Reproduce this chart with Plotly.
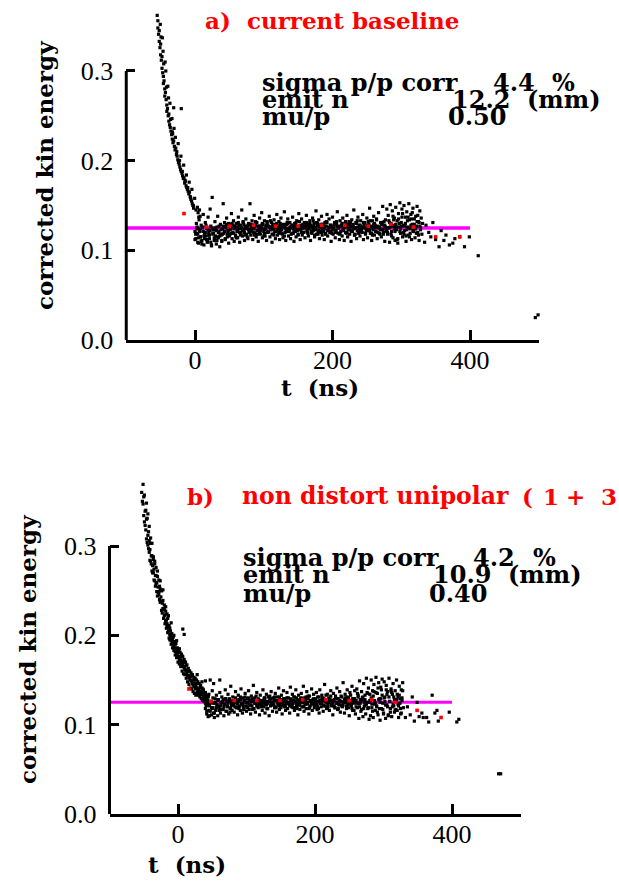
import plotly.graph_objects as go

W, H = 619, 884

# ================= panel a : current baseline =================
# time t (ns); energy values in units of 1e-3
t_a_curve1 = [-55,-54,-54,-53,-52,-52,-51,-50,-50,-49,-48,-48,-47,-46,-46,-45,-44,-44,-43,-42,-41,-41,-40,-39,-38,-38,-37,-36,-35,-34,-33,-33,-32,-31,-30,-29,-28,-27,-26,-25,-24,-23,-22,-21,-20,-19,-18,-17,-16,-15,-14,-13,-12,-11,-10,-9,-8,-7,-6,-5,-4,-3,-2,-31,-20]
e_a_curve1 = [362,356,348,341,345,333,326,330,318,312,316,303,298,294,286,289,280,272,276,268,262,255,258,250,252,244,240,237,233,229,232,224,220,222,216,212,214,207,205,201,198,196,193,190,188,186,183,180,181,175,177,172,170,168,166,163,165,160,157,155,152,150,147,259,258]
t_a_curve2 = [-50.5,-49.5,-47.5,-46.5,-45.5,-43.5,-42.5,-41.5,-39.5,-38.5,-36.5,-35.5,-33.5,-32.5,-30.5,-28.5,-26.5,-24.5,-22.5,-20.5,-18.5,-16.5,-14.5,-12.5,-10.5,-8.5,-6.5,-4.5,-2.5,-0.5,1.5,3.5,4.5,5.5,6.5,7.5]
e_a_curve2 = [352,338,337,322,308,310,300,282,283,270,264,246,247,230,236,226,210,219,200,205,188,195,178,184,170,176,159,168,150,158,145,148,142,137,145,138]

t_a_band1 = [0,1,2,3,4,5,6,7,8,9,10,11,12,13,14,15,16,17,18,19,20,21,22,23,24,25,26,27,28,29,30,31,32,33,34,35,36,37,38,39,
 40,41,42,43,44,45,46,47,48,49,50,51,52,53,54,55,56,57,58,59,60,61,62,63,64,65,66,67,68,69,70,71,72,73,74,75,76,77,78,79,
 80,81,82,83,84,85,86,87,88,89,90,91,92,93,94,95,96,97,98,99,100,101,102,103,104,105,106,107,108,109,110,111,112,113,114,115,116,117,118,119,
 120,121,122,123,124,125,126,127,128,129,130,131,132,133,134,135,136,137,138,139,140,141,142,143,144,145,146,147,148,149,150,151,152,153,154,155,156,157,158,159,
 160,161,162,163,164,165,166,167,168,169,170,171,172,173,174,175,176,177,178,179,180,181,182,183,184,185,186,187,188,189,190,191,192,193,194,195,196,197,198,199,
 200,201,202,203,204,205,206,207,208,209,210,211,212,213,214,215,216,217,218,219,220,221,222,223,224,225,226,227,228,229,230,231,232,233,234,235,236,237,238,239,
 240,241,242,243,244,245,246,247,248,249,250,251,252,253,254,255,256,257,258,259,260,261,262,263,264,265,266,267,268,269,270,271,272,273,274,275,276,277,278,279,
 280,281,282,283,284,285,286,287,288,289,290,291,292,293,294,295,296,297,298,299,300,301,302,303,304,305,306,307,308,309,310,311,312,313,314,315,316,317,318,319,
 320,321,322,323,324,325,326,327,328,329,330,331]
e_a_band1 = [121,113,130,126,118,108,134,122,115,128,111,125,140,106,119,131,116,124,109,137,
 120,113,146,127,105,159,118,123,111,132,116,107,126,138,114,121,104,129,117,110,
 124,152,119,131,112,127,136,115,122,108,129,118,125,141,113,120,133,110,126,117,
 130,121,114,137,124,109,128,119,145,116,132,123,111,127,135,118,125,113,130,120,
 152,117,126,133,112,124,139,119,128,115,131,122,110,127,136,118,125,142,114,129,
 121,133,116,124,111,130,120,127,138,115,123,131,109,126,118,134,121,113,128,140,
 117,125,132,112,122,136,119,128,114,126,143,120,111,129,124,135,116,122,131,113,
 127,119,137,124,110,130,121,115,133,126,118,141,123,112,128,135,117,125,120,131,
 114,126,139,121,129,116,124,133,111,127,119,136,122,130,115,125,144,118,128,120,
 134,113,126,121,138,117,129,124,112,131,119,127,140,116,123,135,120,128,110,126,
 137,118,125,131,114,122,129,143,119,126,112,133,121,128,116,136,124,111,130,120,
 127,139,115,123,132,118,126,110,134,121,129,145,117,125,131,113,122,137,119,128,
 116,133,124,120,140,112,127,131,118,125,136,114,122,129,147,119,126,111,133,123,
 138,117,128,121,135,113,126,142,119,124,131,115,129,149,120,127,110,134,122,146,
 118,139,125,109,151,130,121,144,114,127,136,111,148,123,133,108,141,126,153,119,
 131,146,115,128,150,122,137,110,143,126,117,152,134,124,140,112,129,147,121,135,
 114,138,127,149,120,132,111,144,125,136,118,130]
t_a_band2 = [0,2,4,6,8,10,12,14,16,18,20,22,24,26,28,30,32,34,36,38,40,42,44,46,48,50,52,54,56,58,60,62,64,66,68,70,72,74,76,78,
 80,82,84,86,88,90,92,94,96,98,100,102,104,106,108,110,112,114,116,118,120,122,124,126,128,130,132,134,136,138,140,142,144,146,148,150,152,154,156,158,
 160,162,164,166,168,170,172,174,176,178,180,182,184,186,188,190,192,194,196,198,200,202,204,206,208,210,212,214,216,218,220,222,224,226,228,230,232,234,236,238,
 240,242,244,246,248,250,252,254,256,258,260,262,264,266,268,270,272,274,276,278,280,282,284,286,288,290,292,294,296,298,300,302,304,306,308,310,312,314,316,318,
 320,322,324,326,328]
e_a_band2 = [112,119,109,124,115,107,121,113,128,110,117,122,106,119,114,125,111,120,116,123,
 118,126,113,129,121,116,124,130,119,127,114,122,128,117,125,131,120,126,115,123,
 129,121,124,117,132,122,127,119,125,130,116,123,128,120,126,133,118,124,129,121,
 125,119,130,123,127,116,124,131,121,126,118,128,122,129,125,117,132,123,127,120,
 126,131,119,124,128,121,133,117,125,130,122,127,120,129,124,118,131,123,126,121,
 123,128,120,132,125,118,127,130,122,126,119,129,124,131,121,127,117,125,133,122,
 128,121,126,130,119,124,132,122,127,117,129,125,134,120,126,123,131,118,128,124,
 120,133,126,116,138,124,129,112,135,121,127,141,118,130,123,137,115,128,142,122,
 126,119,139,131,123]
t_a_band3 = [1,3,5,7,9,11,13,15,17,19,21,23,25,27,29,31,33,35,37,39,41,43,45,47,49,51,53,55,57,59,61,63,65,67,69,71,73,75,77,79,
 81,83,85,87,89,91,93,95,97,99,101,103,105,107,109,111,113,115,117,119,121,123,125,127,129,131,133,135,137,139,141,143,145,147,149,151,153,155,157,159,
 161,163,165,167,169,171,173,175,177,179,181,183,185,187,189,191,193,195,197,199,201,203,205,207,209,211,213,215,217,219,221,223,225,227,229,231,233,235,237,239,
 241,243,245,247,249,251,253,255,257,259,261,263,265,267,269,271,273,275,277,279,281,283,285,287,289,291,293,295,297,299,301,303,305,307,309,311,313,315,317,319,
 321,323,325,327]
e_a_band3 = [118,124,114,121,110,126,116,120,112,123,117,109,125,119,113,122,115,127,118,111,
 127,121,125,118,130,123,119,128,124,116,126,131,120,125,122,129,117,124,128,121,
 123,129,120,126,131,118,125,122,128,124,119,127,132,121,126,123,129,117,125,130,
 122,127,124,118,129,126,121,130,123,125,128,119,126,131,122,127,124,120,129,125,
 128,122,126,130,120,125,127,123,131,118,126,129,124,121,127,132,122,125,128,119,
 124,130,121,127,125,119,128,123,126,132,120,125,129,122,127,124,118,130,126,123,
 127,120,131,125,122,128,124,133,119,126,130,121,127,125,118,129,123,132,126,121,
 125,131,118,128,134,121,126,113,130,124,137,120,127,116,133,125,119,135,122,129,
 124,132,117,127]
t_a_tail = [334,336,340,343,346,350,355,358,362,365,370,375,378,385,392,399,412,495,499,512]
e_a_tail = [109,128,120,115,131,112,104,122,111,117,106,108,113,115,104,115,94,25,28,18]
t_a_mean = [-16,17,50,85,117,150,184,218,252,285,318,350,385]
e_a_mean = [141,126,127,128,127,127,128,128,127,129,126,115,115]

# ================= panel b : non distort unipolar =================
t_b_curve1 = [-51,-50,-49,-48,-47,-46,-45,-44,-43,-42,-41,-40,-39,-38,-37,-36,-35,-34,-33,-32,
 -31,-30,-29,-28,-27,-26,-25,-24,-23,-22,-21,-20,-19,-18,-17,-16,-15,-14,-13,-12,
 -11,-10,-9,-8,-7,-6,-5,-4,-3,-2,-1,0,1,2,3,4,5,6,7,8,9,10,11,12,13,14,15,16,17,18,
 19,20,21,22,23,24,25,26,27,28,29,30,31,32,33,34,35,36,37,38,39,40,41,42,43,44,45]
e_b_curve1 = [369,355,357,339,340,330,331,312,316,306,296,303,289,289,278,288,274,280,267,267,
 259,266,254,249,255,252,243,250,236,239,229,234,223,227,217,211,219,205,211,201,
 205,194,202,191,198,187,193,182,191,181,186,177,184,173,181,172,179,169,176,165,
 173,162,170,160,167,155,163,153,160,150,158,149,156,145,153,146,152,144,150,141,
 148,139,146,136,144,134,141,134,139,131,136,128,133,129,125,131,126]
t_b_curve2 = [-53,-52,-51,-50,-49,-48,-47,-46,-45,-44,-43,-42,-41,-40,-39,-38,-37,-36,-35,-34,
 -33,-32,-31,-30,-29,-28,-27,-26,-25,-24,-23,-22,-21,-20,-19,-18,-17,-16,-15,-14,
 -13,-12,-11,-10,-9,-8,-7,-6,-5,-4,-3,-2,-1,0,1,2,3,4,5,6,
 7,8,9,10,11,12,13,14,15,16,17,18,19,20,21,22,23,24,25,26,
 27,28,29,30,31,32,33,34,35,36,37,38,39,40,41,42]
e_b_curve2 = [360,350,347,334,327,323,318,308,304,301,297,293,284,283,280,272,270,270,262,261,
 255,258,249,244,248,246,240,237,238,228,225,230,219,222,213,216,208,213,203,209,
 197,195,199,190,194,186,190,183,186,178,183,175,180,170,176,168,174,165,171,160,
 168,157,164,156,161,152,158,148,155,145,152,141,149,140,146,137,143,135,141,133,
 141,136,139,133,137,131,135,129,134,127,132,126,130,124,129,122]
t_b_curve3 = [-46,-44,-42,-40,-38,-36,-34,-32,-30,-28,-26,-24,-22,-20,-18,-16,-14,-12,-10,-8,
 -6,-4,-2,0,2,4,6,8,10,12,14,16,18,20,22,24,26,28,30,32,34,36,38,40,42,44,46,
 7,9,35,47,52,61,28,40]
e_b_curve3 = [348,336,322,309,303,285,283,276,272,262,261,250,251,229,232,224,222,208,214,196,
 200,190,194,182,185,176,177,171,170,166,161,160,154,155,149,150,140,146,136,141,137,140,133,136,129,132,124,
 207,201,148,150,146,150,156,149]

t_b_band1 = [40,41,42,43,44,45,46,47,48,49,50,51,52,53,54,55,56,57,58,59,60,61,62,63,64,65,66,67,68,69,70,71,72,73,74,75,76,77,78,79,
 80,81,82,83,84,85,86,87,88,89,90,91,92,93,94,95,96,97,98,99,100,101,102,103,104,105,106,107,108,109,110,111,112,113,114,115,116,117,118,119,
 120,121,122,123,124,125,126,127,128,129,130,131,132,133,134,135,136,137,138,139,140,141,142,143,144,145,146,147,148,149,150,151,152,153,154,155,156,157,158,159,
 160,161,162,163,164,165,166,167,168,169,170,171,172,173,174,175,176,177,178,179,180,181,182,183,184,185,186,187,188,189,190,191,192,193,194,195,196,197,198,199,
 200,201,202,203,204,205,206,207,208,209,210,211,212,213,214,215,216,217,218,219,220,221,222,223,224,225,226,227,228,229,230,231,232,233,234,235,236,237,238,239,
 240,241,242,243,244,245,246,247,248,249,250,251,252,253,254,255,256,257,258,259,260,261,262,263,264,265,266,267,268,269,270,271,272,273,274,275,276,277,278,279,
 280,281,282,283,284,285,286,287,288,289,290,291,292,293,294,295,296,297,298,299,300,301,302,303,304,305,306,307,308,309,310,311,312,313,314,315,316,317,318,319,
 320,321,322,323,324,325,326,327,328,329]
e_b_band1 = [118,131,112,127,109,134,121,115,126,111,138,119,124,108,129,116,133,122,110,127,
 120,136,113,125,131,117,128,110,123,139,115,126,121,134,112,129,118,143,124,116,
 131,122,114,127,137,119,125,111,133,120,128,116,140,123,113,130,118,126,135,121,
 115,129,124,138,117,127,112,132,121,126,144,118,130,114,125,136,122,119,128,111,
 133,123,127,116,139,120,129,113,126,134,118,124,131,110,128,121,137,125,115,130,
 122,119,135,127,114,131,124,141,117,128,121,133,112,126,138,120,129,116,124,136,
 118,130,125,113,142,122,127,134,119,131,116,126,139,121,128,111,133,124,117,129,
 135,120,126,143,115,130,123,118,137,125,129,112,132,121,127,140,116,124,134,119,
 128,122,136,117,131,126,113,139,124,120,133,127,115,129,145,121,126,118,134,123,
 130,116,127,138,121,125,111,135,128,119,132,124,141,117,129,122,137,114,126,131,
 120,147,125,113,134,128,118,139,123,130,110,136,126,121,143,116,129,124,138,112,
 127,140,119,131,107,149,124,115,137,128,109,146,121,133,112,152,125,118,141,106,
 134,110,150,123,138,108,145,127,116,153,120,135,111,147,129,105,142,118,151,124,
 113,148,131,107,144,122,137,110,152,126,118,140,109,134,146,121,114,138,125,150,
 116,131,108,143,124,112,139,127,147,119]
t_b_band2 = [42,44,46,48,50,52,54,56,58,60,62,64,66,68,70,72,74,76,78,80,
 82,84,86,88,90,92,94,96,98,100,102,104,106,108,110,112,114,116,118,120,
 122,124,126,128,130,132,134,136,138,140,142,144,146,148,150,152,154,156,158,160,
 162,164,166,168,170,172,174,176,178,180,182,184,186,188,190,192,194,196,198,200,
 202,204,206,208,210,212,214,216,218,220,222,224,226,228,230,232,234,236,238,240,
 242,244,246,248,250,252,254,256,258,260,262,264,266,268,270,272,274,276,278,280,
 282,284,286,288,290,292,294,296,298,300,302,304,306,308,310,312,314,316,318,320,
 322,324,326,328]
e_b_band2 = [115,122,110,126,118,113,124,119,128,116,121,125,117,123,129,120,126,114,122,127,
 124,130,119,126,121,128,123,117,131,125,120,127,122,129,118,124,132,121,126,123,
 127,121,130,124,118,126,132,122,125,128,120,127,123,131,119,125,129,122,126,124,
 123,129,120,126,131,124,118,127,122,130,125,121,128,124,132,119,126,123,129,125,
 126,120,131,124,128,122,127,133,119,125,129,123,126,121,130,124,118,127,132,122,
 125,130,121,127,123,133,118,126,129,120,135,124,128,117,131,125,122,136,119,127,
 130,115,137,124,121,141,118,129,133,112,126,139,120,131,114,136,123,128,117,134,
 121,129,113,138]
t_b_band3 = [41,43,45,47,49,51,53,55,57,59,61,63,65,67,69,71,73,75,77,79,
 81,83,85,87,89,91,93,95,97,99,101,103,105,107,109,111,113,115,117,119,
 121,123,125,127,129,131,133,135,137,139,141,143,145,147,149,151,153,155,157,159,
 161,163,165,167,169,171,173,175,177,179,181,183,185,187,189,191,193,195,197,199,
 201,203,205,207,209,211,213,215,217,219,221,223,225,227,229,231,233,235,237,239,
 241,243,245,247,249,251,253,255,257,259,261,263,265,267,269,271,273,275,277,279,
 281,283,285,287,289,291,293,295,297,299,301,303,305,307,309,311,313,315,317,319,
 321,323,325,327]
e_b_band3 = [121,127,116,124,119,130,113,125,122,128,117,123,126,120,129,115,124,127,119,122,
 126,120,128,123,118,131,124,121,127,125,119,130,122,126,117,128,124,121,129,123,
 120,127,124,130,122,118,126,129,123,125,131,119,127,121,124,128,122,126,120,130,
 125,121,128,123,127,119,130,124,122,126,129,120,125,131,123,118,127,124,128,122,
 129,123,118,127,124,130,121,126,125,120,128,132,122,127,119,125,129,123,126,121,
 122,128,125,131,119,126,123,129,116,127,124,133,120,126,130,118,128,123,135,125,
 127,119,132,123,136,114,128,125,139,117,130,122,134,111,126,138,120,131,116,128,
 123,133,118,130]
t_b_tail = [332,335,339,342,345,349,352,356,358,363,366,371,375,378,380,396,407,410,468,471]
e_b_tail = [108,120,111,131,104,125,109,113,108,108,103,133,113,116,104,114,103,106,45,45]
t_b_mean = [16,48,82,115,149,182,216,250,283,317,349,384]
e_b_mean = [140,126,127,127,127,128,128,127,128,125,116,108]

# reference level (magenta line)
ref_t = [-100, 400]
ref_level = [0.125, 0.125]

stats_a = {"sigma": "4.4", "emit": "12.2", "mup": "0.50"}
stats_b = {"sigma": "4.2", "emit": "10.9", "mup": "0.40"}


def join(pairs):
    ts, es = [], []
    for t, e in pairs:
        n = min(len(t), len(e))
        ts += list(t[:n])
        es += [v / 1000.0 for v in e[:n]]
    return ts, es


ta, ea = join([(t_a_curve1, e_a_curve1), (t_a_curve2, e_a_curve2), (t_a_band1, e_a_band1),
               (t_a_band2, e_a_band2), (t_a_band3, e_a_band3), (t_a_tail, e_a_tail)])
tb, eb = join([(t_b_curve1, e_b_curve1), (t_b_curve2, e_b_curve2), (t_b_curve3, e_b_curve3),
               (t_b_band1, e_b_band1), (t_b_band2, e_b_band2), (t_b_band3, e_b_band3),
               (t_b_tail, e_b_tail)])
tam, eam = join([(t_a_mean, e_a_mean)])
tbm, ebm = join([(t_b_mean, e_b_mean)])

fig = go.Figure()
for (xs, ys, xm, ym, xa, ya, lw) in [(ta, ea, tam, eam, "x", "y", 3.5), (tb, eb, tbm, ebm, "x2", "y2", 3)]:
    fig.add_trace(go.Scatter(x=ref_t, y=ref_level, mode="lines", line=dict(color="#ff00ff", width=lw),
                             xaxis=xa, yaxis=ya, showlegend=False, hoverinfo="skip"))
    fig.add_trace(go.Scatter(x=xs, y=ys, mode="markers", marker=dict(color="black", size=3.2, symbol="square",
                             line=dict(width=0)), xaxis=xa, yaxis=ya, showlegend=False, cliponaxis=False))
    fig.add_trace(go.Scatter(x=xm, y=ym, mode="markers", marker=dict(color="#ff0000", size=3.6, symbol="square",
                             line=dict(width=0)), xaxis=xa, yaxis=ya, showlegend=False, cliponaxis=False))

TICKFONT = dict(family="Liberation Serif", size=26, color="black")
BOLD = "DejaVu Serif"


def xax(dom):
    return dict(domain=dom, range=[-100, 500], showline=True, linewidth=3, linecolor="black",
                ticks="inside", ticklen=10, tickwidth=3, tickcolor="black", tickvals=[0, 200, 400],
                tickfont=TICKFONT, showgrid=False, zeroline=False, ticklabelstandoff=-5,
                automargin=False)


def yax(dom, top):
    return dict(domain=dom, range=[0, top], showline=False, ticks="inside", ticklen=9, tickwidth=3,
                tickcolor="black", tickvals=[0, 0.1, 0.2, 0.3], ticktext=["0.0", "0.1", "0.2", "0.3"],
                tickfont=TICKFONT, showgrid=False, zeroline=False, ticklabelstandoff=12,
                automargin=False)


fig.update_layout(
    template="none",
    width=W, height=H, autosize=False, margin=dict(l=0, r=0, t=0, b=0, pad=0, autoexpand=False),
    paper_bgcolor="white", plot_bgcolor="white", showlegend=False,
    xaxis=dict(anchor="y", **xax([126.25 / W, 538.75 / W])),
    yaxis=dict(anchor="x", **yax([1 - 340 / H, 1.0], 340 / 896.7)),
    xaxis2=dict(anchor="y2", **xax([109.5 / W, 520.5 / W])),
    yaxis2=dict(anchor="x2", **yax([1 - 814 / H, 1 - 480 / H], 334 / 893.3)),
)

# y axis lines run only from 0 to 0.3
for xr, yr in [("x domain", "y"), ("x2 domain", "y2")]:
    fig.add_shape(type="line", xref=xr, yref=yr, x0=0, x1=0, y0=0, y1=0.3,
                  line=dict(color="black", width=3))

anns = []


def ann(text, px, py, size=24, color="black", xanchor="left", angle=0, family=BOLD):
    anns.append(dict(text=text, x=px / W, y=1 - py / H, xref="paper", yref="paper",
                     xanchor=xanchor, yanchor="middle", showarrow=False, textangle=angle,
                     font=dict(family=family, size=size, color=color)))


# panel a texts
ann("<b>a)</b>", 203, 20, size=23, color="#ff0000")
ann("<b>current baseline</b>", 245, 20, size=23, color="#ff0000")
ann("<b>sigma p/p corr</b>", 260, 82)
ann("<b>%s</b>" % stats_a["sigma"], 491, 82)
ann("<b>%</b>", 550, 82)
ann("<b>emit n</b>", 260, 99)
ann("<b>%s</b>" % stats_a["emit"], 450, 99)
ann("<b>(mm)</b>", 525, 99)
ann("<b>mu/p</b>", 260, 117)
ann("<b>%s</b>" % stats_a["mup"], 446, 117)
ann("<b>t  (ns)</b>", 320, 387, size=23, xanchor="center")
ann("<b>corrected kin energy</b>", 45, 176, size=23, xanchor="center", angle=-90)

# panel b texts
ann("<b>b)</b>", 185, 496, size=23, color="#ff0000")
ann("<b>non distort unipolar</b>", 240, 496, size=23.5, color="#ff0000")
ann("<b>(</b>", 520, 496, size=23, color="#ff0000")
ann("<b>1</b>", 541, 496, size=23, color="#ff0000")
ann("<b>+</b>", 564, 496, size=23, color="#ff0000")
ann("<b>3</b>", 599, 496, size=23, color="#ff0000")
ann("<b>sigma p/p corr</b>", 241, 557)
ann("<b>%s</b>" % stats_b["sigma"], 471, 557)
ann("<b>%</b>", 531, 557)
ann("<b>emit n</b>", 241, 574)
ann("<b>%s</b>" % stats_b["emit"], 431, 574)
ann("<b>(mm)</b>", 506, 574)
ann("<b>mu/p</b>", 241, 593)
ann("<b>%s</b>" % stats_b["mup"], 427, 593)
ann("<b>t  (ns)</b>", 187, 864, size=23, xanchor="center")
ann("<b>corrected kin energy</b>", 27, 650, size=23, xanchor="center", angle=-90)

fig.update_layout(annotations=anns)

post = ("document.documentElement.style.margin='0';document.body.style.margin='0';"
        "document.documentElement.style.overflow='hidden';document.body.style.overflow='hidden';")
fig.write_html("out.html", config={"displayModeBar": False}, post_script=post)
